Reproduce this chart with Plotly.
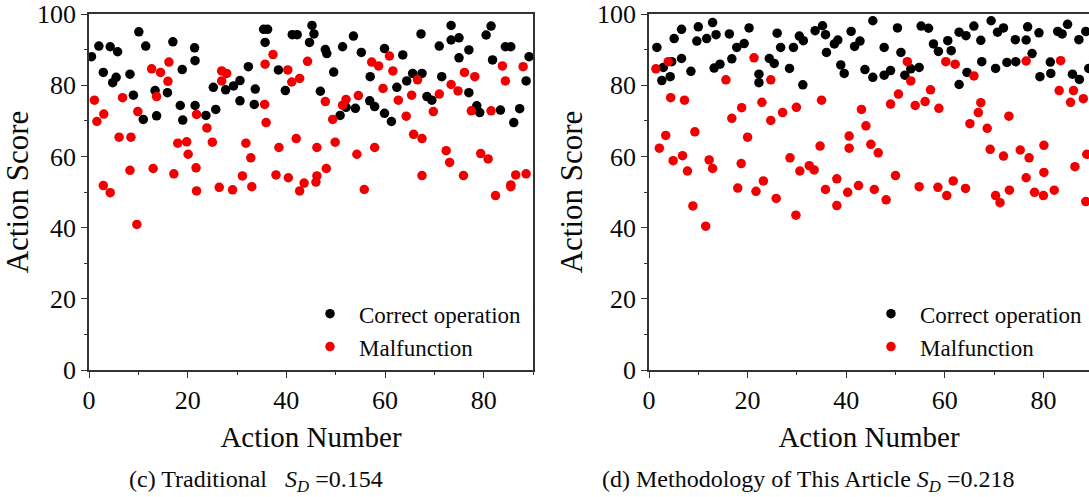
import plotly.graph_objects as go

# ---------- data: (c) Traditional ----------
trad_correct_x = [0.5,2.0,2.9,4.3,4.8,5.5,5.8,8.3,9.0,10.1,11.0,11.5,13.4,13.7,15.9,17.0,18.9,18.5,19.0,21.4,
                  21.5,21.5,23.7,25.2,25.7,27.7,29.3,30.6,30.6,32.3,33.5,33.7,35.4,36.2,35.7,38.4,
                  39.8,41.2,42.2,45.2,45.6,44.7,47.9,48.2,49.6,46.9,51.4,53.6,55.2,50.9,52.1,54.0,56.9,57.9,57.0,59.9,
                  59.9,61.3,62.4,63.6,64.4,65.6,67.5,67.3,68.5,69.5,71.5,71.0,73.4,73.4,75.0,75.0,77.0,77.0,78.6,79.2,
                  80.5,81.5,81.8,83.4,84.4,85.5,86.1,87.3,88.6,89.2]
trad_correct_y = [88.0,91.0,83.6,90.8,80.7,82.2,89.4,83.1,77.2,95.0,70.4,91.0,78.5,71.4,77.9,92.2,84.4,74.3,70.2,90.5,
                  86.9,74.3,71.5,79.4,73.2,78.7,79.8,81.3,75.6,85.2,74.6,78.9,95.7,95.7,92.0,84.3,
                  78.5,94.2,94.2,96.8,94.4,92.0,90.0,88.9,83.7,78.3,90.8,93.8,89.2,71.5,73.8,73.5,75.6,74.0,82.4,90.3,
                  72.1,69.8,79.4,88.5,81.2,83.3,83.3,94.4,76.8,75.8,82.4,91.0,96.8,92.7,93.3,87.7,89.9,77.9,74.2,72.3,
                  94.1,96.6,87.1,73.0,90.8,90.8,69.5,73.4,81.2,88.0]
trad_fault_x = [1.1,1.6,3.0,2.9,4.3,6.1,6.8,8.3,8.5,9.7,9.9,12.7,13.0,13.7,14.5,16.0,16.2,17.2,18.0,19.8,
                20.1,21.7,21.8,21.8,23.9,25.0,26.4,26.9,26.9,27.9,29.1,31.1,31.8,32.8,33.0,35.7,35.6,35.9,37.3,38.5,37.9,
                40.3,41.1,42.7,42.0,40.4,42.7,43.6,44.3,46.2,46.2,46.0,48.1,47.9,49.4,49.9,51.4,52.1,54.6,54.3,55.8,
                57.9,57.3,58.7,59.6,60.9,61.6,62.7,64.3,65.4,66.6,65.8,67.5,67.5,69.8,71.0,72.4,73.1,73.4,74.8,76.1,
                75.9,78.2,77.5,79.4,80.9,81.5,82.4,83.8,84.4,85.5,85.5,86.5,88.6,88.0]
trad_fault_y = [75.8,69.8,71.9,51.8,49.8,65.4,76.5,56.1,65.4,40.9,72.6,84.6,56.6,76.8,83.6,81.1,86.5,55.1,63.7,64.1,
                60.6,56.8,71.8,50.3,68.0,64.0,51.3,84.0,81.2,83.3,50.6,54.5,63.7,59.6,51.5,85.9,74.6,69.5,88.6,62.5,54.8,
                84.3,80.9,81.9,65.0,54.0,50.3,52.5,86.7,62.5,54.5,52.8,56.6,75.4,70.4,64.0,74.4,76.0,77.1,60.6,50.7,
                62.5,86.5,85.4,79.1,88.2,84.0,75.8,71.3,77.2,81.5,66.2,65.0,54.6,72.6,77.5,61.6,58.3,80.2,78.4,83.6,
                54.6,82.4,72.8,60.8,59.3,72.8,49.0,85.4,81.2,51.5,52.0,54.8,55.1,85.2]

# ---------- data: (d) Methodology of This Article ----------
new_correct_x = [1.6,2.6,2.9,4.3,4.6,5.1,6.6,6.6,8.5,9.7,10.0,11.7,12.9,13.6,13.2,14.4,16.3,16.8,17.8,19.3,
                 20.3,22.3,22.3,24.4,25.4,26.0,26.7,28.5,29.3,30.5,31.3,31.2,33.7,35.2,35.8,36.0,
                 37.6,38.3,38.9,39.6,41.0,41.7,42.8,43.8,45.4,45.4,47.7,47.7,49.0,50.4,51.1,51.9,53.1,54.8,55.2,56.7,
                 57.7,58.7,60.6,61.3,62.9,64.3,62.9,64.5,65.9,67.3,67.5,69.4,70.7,71.9,70.3,72.6,74.4,74.3,76.5,76.8,
                 77.7,79.1,79.3,81.4,81.5,82.9,83.8,84.9,85.9,87.3,87.2,88.6,89.2]
new_correct_y = [90.6,81.3,85.0,82.4,86.6,93.1,95.7,87.5,83.9,92.4,96.4,93.1,97.6,94.2,84.8,85.9,94.4,87.4,90.6,91.7,
                 96.1,83.1,80.7,87.5,86.1,94.6,90.6,84.7,90.6,93.8,92.5,80.1,95.3,96.7,94.2,89.2,
                 91.6,92.7,85.7,83.3,95.1,90.9,92.4,84.4,98.1,82.2,90.6,82.8,84.1,96.1,89.2,82.8,84.6,85.0,96.6,96.0,
                 91.6,89.5,92.5,89.7,94.9,93.9,80.2,83.6,96.6,92.6,86.6,98.1,94.9,96.1,84.7,86.4,86.6,92.8,92.7,96.4,
                 88.9,94.7,82.4,86.5,83.3,95.1,94.4,97.1,83.1,81.6,92.8,95.1,84.7]
new_fault_x = [1.4,3.9,2.1,3.4,4.4,4.9,6.8,7.2,7.8,9.3,8.9,11.5,12.2,12.9,15.6,16.8,18.0,18.7,18.8,20.0,
               21.3,21.7,22.9,23.2,24.7,24.7,25.8,27.1,28.6,29.9,29.8,30.6,32.5,33.5,35.0,34.7,35.8,
               52.4,53.1,50.6,49.0,54.0,56.0,57.1,58.8,60.2,62.1,65.9,67.3,66.8,65.1,68.6,73.0,76.5,83.5,83.2,86.1,
               85.5,88.1,43.1,44.0,40.6,40.6,45.0,46.5,50.0,38.1,40.3,42.5,45.7,48.1,38.1,54.8,58.6,60.4,61.7,64.2,
               69.2,71.9,70.3,71.2,73.1,75.3,77.1,80.1,76.5,80.1,78.2,80.0,82.2,86.4,88.8,88.6]
new_fault_y = [84.6,86.6,62.3,65.9,76.5,58.8,60.2,75.8,55.9,66.9,46.1,40.4,59.0,56.6,81.5,70.7,51.1,58.0,73.7,65.4,
               87.7,50.2,75.2,53.1,81.5,70.1,48.2,72.3,59.6,73.8,43.5,55.9,57.4,56.2,75.8,62.9,50.7,
               86.6,81.2,77.5,74.7,74.3,75.4,78.7,73.5,86.6,85.9,82.6,75.1,72.3,69.2,67.9,71.3,86.8,86.9,78.5,78.5,
               75.2,76.2,73.2,68.6,65.7,62.3,63.4,61.0,54.6,53.7,49.9,51.8,50.7,47.8,46.2,51.5,51.3,49.0,53.1,51.0,
               62.0,60.1,49.0,47.0,50.5,61.8,59.6,63.1,54.0,55.5,49.9,49.0,50.5,57.1,60.6,47.3]

series_names = ["Correct operation", "Malfunction"]
captions = ["(c) Traditional\u00a0\u00a0\u00a0<i>S</i><sub><i>D</i></sub> =0.154",
            "(d) Methodology of This Article <i>S</i><sub><i>D</i></sub> =0.218"]
x_ticks = [0, 20, 40, 60, 80]
y_ticks = [0, 20, 40, 60, 80, 100]

FONT = "Liberation Serif"
BLACK = "#000000"
RED = "#f00000"
TXT = "#0a0a0a"
W, H = 1089, 497

fig = go.Figure()
panels = [
    (trad_correct_x, trad_correct_y, trad_fault_x, trad_fault_y, "x", "y", "legend"),
    (new_correct_x, new_correct_y, new_fault_x, new_fault_y, "x2", "y2", "legend2"),
]
for cx, cy, fx, fy, xa, ya, lg in panels:
    fig.add_trace(go.Scatter(x=cx, y=cy, mode="markers", name=series_names[0],
                             marker=dict(color=BLACK, size=9.5), xaxis=xa, yaxis=ya, legend=lg))
    fig.add_trace(go.Scatter(x=fx, y=fy, mode="markers", name=series_names[1],
                             marker=dict(color=RED, size=9.5), xaxis=xa, yaxis=ya, legend=lg))

axis_common = dict(showgrid=False, zeroline=False, linecolor="#333333", linewidth=1.5,
                   ticks="outside", ticklen=6, tickwidth=1.2, tickcolor="#333333", automargin=False,
                   ticklabeloverflow="allow",
                   tickfont=dict(family=FONT, size=26, color=TXT))
minor_common = dict(ticks="outside", ticklen=3, tickwidth=1.2, tickcolor="#333333", dtick=10, tick0=0)

fig.update_layout(
    width=W, height=H,
    margin=dict(l=0, r=0, t=14, b=127),
    plot_bgcolor="white", paper_bgcolor="white",
    font=dict(family=FONT, color=TXT),
    xaxis=dict(domain=[89 / W, 533 / W], range=[0, 90], tickvals=x_ticks,
               mirror=True, anchor="y",
               title=dict(text="Action Number", font=dict(family=FONT, size=29, color=TXT), standoff=13)),
    yaxis=dict(domain=[0, 1], range=[0, 100], tickvals=y_ticks, mirror=True, anchor="x",
               title=dict(text="Action Score", font=dict(family=FONT, size=31, color=TXT), standoff=5)),
    xaxis2=dict(domain=[649 / W, 1.0], range=[0, (1089 - 649) / 4.93], tickvals=x_ticks,
                mirror=True, anchor="y2",
                title=dict(text="Action Number", font=dict(family=FONT, size=29, color=TXT), standoff=13)),
    yaxis2=dict(domain=[0, 1], range=[0, 100], tickvals=y_ticks, mirror=False, anchor="x2",
                title=dict(text="Action Score", font=dict(family=FONT, size=31, color=TXT), standoff=5)),
    showlegend=True,
    legend=dict(x=301 / W, y=0.005, xanchor="left", yanchor="bottom", bgcolor="rgba(0,0,0,0)",
                font=dict(family=FONT, size=23, color=TXT), itemwidth=48, tracegroupgap=0),
    legend2=dict(x=862 / W, y=0.005, xanchor="left", yanchor="bottom", bgcolor="rgba(0,0,0,0)",
                 font=dict(family=FONT, size=23, color=TXT), itemwidth=48, tracegroupgap=0),
)
for k in ["xaxis", "yaxis", "xaxis2", "yaxis2"]:
    fig.layout[k].update(**axis_common)
    fig.layout[k].minor.update(**minor_common)

for cap, xpx in zip(captions, [127, 600]):
    fig.add_annotation(text=cap, x=xpx / W, y=-0.3125, xref="paper", yref="paper",
                       xanchor="left", yanchor="middle", showarrow=False,
                       font=dict(family=FONT, size=24, color=TXT))

# remove the page's default 8px body margin so the figure sits at the window's corner
fig.write_html("out.html", config={"displayModeBar": False},
               post_script="document.body.style.margin='0';")
